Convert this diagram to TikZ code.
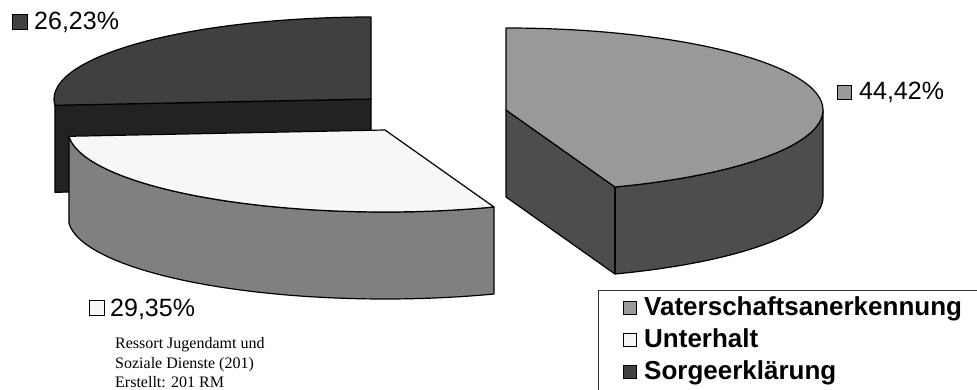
\documentclass[tikz,border=0pt]{standalone}
\usepackage{fontspec}
\usetikzlibrary{calc}
\setmainfont{Liberation Serif}
\newfontfamily\labfont{Liberation Sans}
\definecolor{cA}{HTML}{404040}
\definecolor{cB}{HTML}{222222}
\definecolor{cC}{HTML}{F7F7F7}
\definecolor{cD}{HTML}{808080}
\definecolor{cE}{HTML}{999999}
\definecolor{cF}{HTML}{4D4D4D}
\begin{document}
\begin{tikzpicture}[x=1pt,y=1pt,
  edge/.style={draw=black,line width=1.2pt,line join=round},
  pct/.style={font=\labfont\fontsize{25}{29}\selectfont,inner sep=0pt,anchor=base west},
  leg/.style={font=\labfont\bfseries\fontsize{26}{30}\selectfont,inner sep=0pt,anchor=base west},
  note/.style={font=\fontsize{16}{19}\selectfont,inner sep=0pt,anchor=base west},
  swatch/.style={draw=black,line width=1pt,inner sep=0pt,minimum size=14pt,anchor=south west},
  ell/.style={x radius=317,y radius=82}]
\useasboundingbox (0,0) rectangle (977,389);
\clip (0,0) rectangle (977,389);

% ---- left pie: Sorgeerklaerung (back slice)
\coordinate (D) at (371,290);
\coordinate (DL) at ($(D)+(184.4:317 and 82)$);
\path[edge,fill=cB] (DL) -- (D) -- ($(D)+(0,-87)$) -- ($(DL)+(0,-87)$) -- cycle;
\path[edge,fill=cA] (D) -- ++(0,82) arc[start angle=90,end angle=184.4,ell] -- cycle;

% ---- left pie: Unterhalt (front slice)
\coordinate (W) at (385,259);
\coordinate (WL) at ($(W)+(184.4:317 and 82)$);
\path[edge,fill=cD] (WL) arc[start angle=184.4,end angle=290.1,ell] -- ++(0,-87)
  arc[start angle=290.1,end angle=184.4,ell] -- cycle;
\path[edge,fill=cC] (W) -- (WL) arc[start angle=184.4,end angle=290.1,ell] -- cycle;

% ---- right pie: Vaterschaftsanerkennung
\coordinate (R) at (506,279);
\coordinate (RA) at ($(R)+(290.1:317 and 82)$);
\path[edge,fill=cF] (R) -- (RA) arc[start angle=290.1,end angle=360,ell] -- ++(0,-87)
  arc[start angle=360,end angle=290.1,ell] -- ($(R)+(0,-87)$) -- cycle;
\draw[edge] (RA) -- ($(RA)+(0,-87)$);
\path[edge,fill=cE] (R) -- ++(0,82) arc[start angle=90,end angle=-69.9,ell] -- cycle;

% ---- percentage labels
\node[swatch,fill=cA,minimum size=15pt] (s1) at (12,359) {};
\node[pct] (p1) at (34,359) {26,23\%};
\node[swatch,fill=cE] (s2) at (837,289) {};
\node[pct] (p2) at (859,289) {44,42\%};
\node[swatch,fill=cC,minimum size=15pt] (s3) at (89,73) {};
\node[pct] (p3) at (110,73) {29,35\%};

% ---- legend
\draw[draw=black!80,line width=1pt] (990,99) -- (598.5,99) -- (598.5,-10);
\node[swatch,fill=cE,minimum size=13pt] (l1) at (623,74) {};
\node[leg] (t1) at (644,74) {Vaterschaftsanerkennung};
\node[swatch,fill=cC,minimum size=13pt] (l2) at (623,42) {};
\node[leg] (t2) at (644,42) {Unterhalt};
\node[swatch,fill=cA,minimum size=13pt] (l3) at (623,10) {};
\node[leg] (t3) at (644,10) {Sorgeerklärung};

% ---- note
\node[note] (n1) at (115,41) {Ressort Jugendamt und};
\node[note] (n2) at (115,21) {Soziale Dienste (201)};
\node[note] (n3) at (115,2) {Erstellt: 201 RM};
\end{tikzpicture}
\end{document}
